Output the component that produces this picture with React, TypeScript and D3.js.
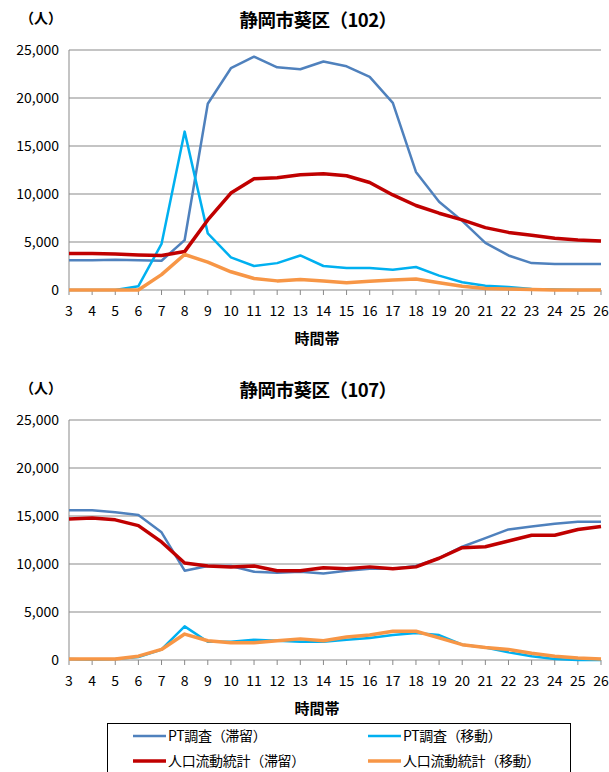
import { useEffect, useRef } from 'react';
import * as d3 from 'd3';

const hours = d3.range(3, 27);
const yTicks = [0, 5000, 10000, 15000, 20000, 25000];

// 静岡市葵区(102)
const pt102Stay = [3100, 3100, 3150, 3100, 3050, 5200, 19400, 23100, 24300, 23200, 23000, 23800, 23300, 22200, 19500, 12300, 9200, 7200, 4900, 3600, 2800, 2700, 2700, 2700];
const pt102Move = [0, 0, 0, 400, 4800, 16500, 5900, 3400, 2500, 2800, 3600, 2500, 2300, 2300, 2100, 2400, 1500, 800, 450, 300, 100, 50, 0, 0];
const pop102Stay = [3800, 3800, 3750, 3650, 3600, 4000, 7300, 10100, 11600, 11700, 12000, 12100, 11900, 11200, 9900, 8800, 8000, 7300, 6500, 6000, 5700, 5400, 5200, 5100];
const pop102Move = [0, 0, 0, 0, 1600, 3700, 2900, 1900, 1200, 950, 1100, 950, 750, 900, 1050, 1150, 750, 400, 150, 100, 50, 0, 0, 0];

// 静岡市葵区(107)
const pt107Stay = [15600, 15600, 15400, 15100, 13300, 9300, 9800, 9800, 9200, 9100, 9200, 9000, 9300, 9500, 9500, 9800, 10600, 11800, 12700, 13600, 13900, 14200, 14400, 14400];
const pt107Move = [100, 50, 100, 300, 1100, 3500, 1900, 1900, 2100, 2000, 1900, 1900, 2100, 2300, 2600, 2800, 2600, 1600, 1300, 800, 400, 100, 0, 0];
const pop107Stay = [14700, 14800, 14600, 14000, 12300, 10100, 9800, 9700, 9800, 9300, 9300, 9600, 9500, 9700, 9500, 9700, 10600, 11700, 11800, 12400, 13000, 13000, 13600, 13900];
const pop107Move = [100, 100, 100, 400, 1100, 2700, 2000, 1800, 1800, 2000, 2200, 2000, 2400, 2600, 3000, 3000, 2300, 1600, 1300, 1100, 700, 400, 200, 100];

const seriesNames = ['PT調査（滞留）', 'PT調査（移動）', '人口流動統計（滞留）', '人口流動統計（移動）'];
const seriesColors = ['#4f81bd', '#00b0f0', '#c00000', '#f79646'];
const seriesWidths = [2.5, 2.5, 3.5, 3.5];

const charts = [
  { title: '静岡市葵区（102）', series: [pt102Stay, pt102Move, pop102Stay, pop102Move] },
  { title: '静岡市葵区（107）', series: [pt107Stay, pt107Move, pop107Stay, pop107Move] },
];

const FONT = '"Noto Sans CJK JP", "Noto Sans", sans-serif';

export default function App() {
  const ref = useRef<SVGSVGElement>(null);

  useEffect(() => {
    if (!ref.current) return;
    const svg = d3.select(ref.current);
    svg.selectAll('*').remove();

    const left = 69;
    const right = 601;
    const plotH = 240;
    const tops = [50, 420];

    const x = d3.scaleLinear().domain([3, 26]).range([left, right]);

    charts.forEach((c, ci) => {
      const top = tops[ci];
      const y = d3.scaleLinear().domain([0, 25000]).range([top + plotH, top]);
      const g = svg.append('g');

      // title
      g.append('text')
        .attr('x', 318).attr('y', top - 23)
        .attr('text-anchor', 'middle')
        .attr('font-family', FONT).attr('font-weight', 'bold').attr('font-size', 18.5)
        .attr('letter-spacing', -0.5)
        .text(c.title);
      g.append('text')
        .attr('x', 20).attr('y', top - 27)
        .attr('font-family', FONT).attr('font-weight', 'bold').attr('font-size', 14)
        .text('（人）');

      // grid
      g.selectAll('line.grid').data(yTicks.slice(1)).join('line')
        .attr('x1', left).attr('x2', right)
        .attr('y1', d => y(d)).attr('y2', d => y(d))
        .attr('stroke', '#898989').attr('stroke-width', 1);

      g.selectAll('text.ylab').data(yTicks).join('text')
        .attr('x', left - 10).attr('y', d => y(d) + 5)
        .attr('text-anchor', 'end')
        .attr('font-family', FONT).attr('font-size', 14)
        .text(d => d3.format(',')(d));

      // axes
      g.append('line')
        .attr('x1', left).attr('x2', left)
        .attr('y1', top).attr('y2', top + plotH)
        .attr('stroke', '#898989');
      g.append('line')
        .attr('x1', left).attr('x2', right)
        .attr('y1', top + plotH).attr('y2', top + plotH)
        .attr('stroke', '#898989');
      g.selectAll('line.tick').data(hours).join('line')
        .attr('x1', d => x(d)).attr('x2', d => x(d))
        .attr('y1', top + plotH).attr('y2', top + plotH + 5)
        .attr('stroke', '#898989');
      g.selectAll('text.xlab').data(hours).join('text')
        .attr('x', d => x(d)).attr('y', top + plotH + 26)
        .attr('text-anchor', 'middle')
        .attr('font-family', FONT).attr('font-size', 14)
        .text(d => d);
      g.append('text')
        .attr('x', 317).attr('y', top + plotH + 54)
        .attr('text-anchor', 'middle')
        .attr('font-family', FONT).attr('font-weight', 'bold').attr('font-size', 15)
        .text('時間帯');

      const line = d3.line<number>()
        .x((_, i) => x(hours[i]))
        .y(d => y(d));

      c.series.forEach((s, si) => {
        g.append('path')
          .datum(s)
          .attr('d', line)
          .attr('fill', 'none')
          .attr('stroke', seriesColors[si])
          .attr('stroke-width', seriesWidths[si])
          .attr('stroke-linejoin', 'round');
      });
    });

    // legend
    const lg = svg.append('g');
    lg.append('rect')
      .attr('x', 107.5).attr('y', 723.5).attr('width', 463).attr('height', 60)
      .attr('fill', 'white').attr('stroke', '#000').attr('stroke-width', 1);
    seriesNames.forEach((name, i) => {
      const col = i % 2;
      const row = Math.floor(i / 2);
      const lx = col === 0 ? 133 : 368;
      const ly = 736 + row * 25;
      lg.append('line')
        .attr('x1', lx).attr('x2', lx + 33)
        .attr('y1', ly).attr('y2', ly)
        .attr('stroke', seriesColors[i]).attr('stroke-width', seriesWidths[i]);
      lg.append('text')
        .attr('x', lx + 35).attr('y', ly + 5)
        .attr('font-family', FONT).attr('font-size', 14)
        .attr('letter-spacing', -0.3)
        .text(name);
    });
  }, []);

  return (
    <svg
      ref={ref}
      width={609}
      height={772}
      style={{ position: 'absolute', left: 0, top: 0, background: 'white' }}
    />
  );
}
